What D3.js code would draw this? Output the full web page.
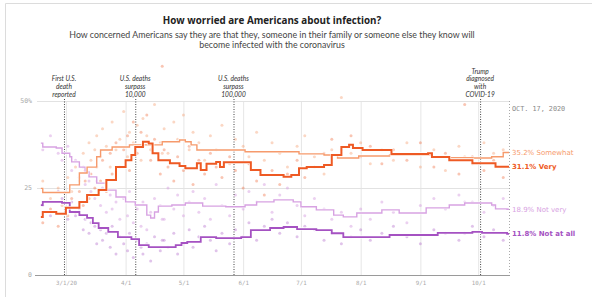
<!DOCTYPE html>
<html>
<head>
<meta charset="utf-8">
<script src="https://cdn.jsdelivr.net/npm/d3@7"></script>
<style>
  html, body { margin: 0; padding: 0; background: #fff; }
  svg { display: block; }
</style>
</head>
<body>
<svg id="chart" width="592" height="297"></svg>
<script>
// ---- data ----
const title = "How worried are Americans about infection?";
const subtitleLines = [
  "How concerned Americans say they are that they, someone in their family or someone else they know will",
  "become infected with the coronavirus",
];
const dateRange = ["2020-02-15", "2020-10-17"];
const monthTicks = ["2020-03-01", "2020-04-01", "2020-05-01", "2020-06-01", "2020-07-01", "2020-08-01", "2020-09-01", "2020-10-01"];
const monthTickLabels = ["3/1/20", "4/1", "5/1", "6/1", "7/1", "8/1", "9/1", "10/1"];
const yTicks = [0, 25, 50];
const yTickLabels = ["0", "25", "50%"];
const endLabel = "OCT. 17, 2020";

const events = [
  { date: "2020-02-29", lines: ["First U.S.", "death", "reported"] },
  { date: "2020-04-06", lines: ["U.S. deaths", "surpass", "10,000"] },
  { date: "2020-05-27", lines: ["U.S. deaths", "surpass", "100,000"] },
  { date: "2020-10-02", lines: ["Trump", "diagnosed", "with", "COVID-19"] },
];

const veryTrend = [
  ["2020-02-17", 16.7], ["2020-02-18", 18.1], ["2020-02-25", 17.6], ["2020-03-01", 19.3],
  ["2020-03-08", 21.0], ["2020-03-12", 23.0], ["2020-03-18", 24.4], ["2020-03-22", 27.3],
  ["2020-03-27", 31.0], ["2020-04-01", 33.0], ["2020-04-04", 34.5], ["2020-04-06", 36.8],
  ["2020-04-10", 38.3], ["2020-04-13", 37.8], ["2020-04-15", 35.0], ["2020-04-18", 33.0],
  ["2020-04-24", 32.1], ["2020-04-29", 31.3], ["2020-05-02", 30.7], ["2020-05-08", 32.1],
  ["2020-05-10", 30.2], ["2020-05-13", 32.0], ["2020-05-18", 32.5], ["2020-05-20", 31.0],
  ["2020-05-22", 32.4], ["2020-06-05", 30.2], ["2020-06-10", 28.7], ["2020-06-22", 28.2],
  ["2020-06-26", 28.7], ["2020-06-30", 30.7], ["2020-07-04", 31.0], ["2020-07-13", 31.6],
  ["2020-07-17", 34.5], ["2020-07-22", 36.8], ["2020-07-26", 37.4], ["2020-07-28", 36.5],
  ["2020-08-02", 35.9], ["2020-08-17", 34.8], ["2020-09-05", 35.0], ["2020-09-07", 33.9],
  ["2020-09-16", 33.0], ["2020-09-28", 32.1], ["2020-10-10", 31.1], ["2020-10-17", 31.1],
];
const somewhatTrend = [
  ["2020-02-17", 24.9], ["2020-02-18", 23.7], ["2020-03-03", 25.9], ["2020-03-08", 29.3],
  ["2020-03-12", 31.0], ["2020-03-17", 34.0], ["2020-03-19", 35.9], ["2020-03-25", 36.8],
  ["2020-04-03", 37.4], ["2020-04-20", 38.3], ["2020-04-29", 38.8], ["2020-05-02", 38.3],
  ["2020-05-05", 37.4], ["2020-05-08", 35.9], ["2020-06-02", 35.4], ["2020-06-30", 34.8],
  ["2020-07-13", 34.5], ["2020-07-20", 33.6], ["2020-07-31", 34.2], ["2020-08-16", 34.5],
  ["2020-09-07", 33.9], ["2020-09-16", 33.7], ["2020-09-28", 33.6], ["2020-10-08", 34.0],
  ["2020-10-14", 35.2], ["2020-10-17", 35.2],
];
const notVeryTrend = [
  ["2020-02-17", 37.9], ["2020-02-18", 36.8], ["2020-02-25", 36.5], ["2020-02-28", 35.0],
  ["2020-03-03", 34.0], ["2020-03-04", 32.5], ["2020-03-08", 31.0], ["2020-03-11", 29.6],
  ["2020-03-13", 28.2], ["2020-03-17", 26.4], ["2020-03-22", 24.4], ["2020-03-27", 22.4],
  ["2020-04-01", 21.0], ["2020-04-06", 20.1], ["2020-04-12", 17.2], ["2020-04-14", 16.4],
  ["2020-04-16", 18.1], ["2020-04-18", 19.8], ["2020-04-25", 20.1], ["2020-05-02", 20.7],
  ["2020-05-11", 19.8], ["2020-05-23", 19.6], ["2020-06-02", 20.1], ["2020-06-08", 21.0],
  ["2020-06-17", 21.6], ["2020-06-27", 21.0], ["2020-07-01", 19.6], ["2020-07-09", 18.7],
  ["2020-07-18", 17.2], ["2020-07-23", 16.7], ["2020-07-30", 17.8], ["2020-08-12", 18.7],
  ["2020-08-21", 17.8], ["2020-09-04", 19.3], ["2020-09-16", 20.1], ["2020-09-24", 20.7],
  ["2020-10-08", 20.1], ["2020-10-10", 19.0], ["2020-10-16", 18.9], ["2020-10-17", 18.9],
];
const notAtAllTrend = [
  ["2020-02-17", 20.1], ["2020-02-18", 21.0], ["2020-02-28", 20.7], ["2020-03-03", 18.1],
  ["2020-03-08", 17.2], ["2020-03-12", 16.4], ["2020-03-15", 14.9], ["2020-03-18", 13.5],
  ["2020-03-23", 12.4], ["2020-03-28", 10.9], ["2020-04-04", 10.3], ["2020-04-08", 8.6],
  ["2020-04-13", 8.0], ["2020-04-27", 8.6], ["2020-04-30", 9.2], ["2020-05-03", 9.5],
  ["2020-05-10", 10.9], ["2020-05-18", 10.6], ["2020-05-31", 10.9], ["2020-06-05", 12.9],
  ["2020-06-15", 13.5], ["2020-06-22", 13.8], ["2020-06-29", 13.2], ["2020-07-09", 12.9],
  ["2020-07-17", 12.0], ["2020-07-23", 10.9], ["2020-08-16", 11.5], ["2020-09-10", 12.1],
  ["2020-09-28", 12.4], ["2020-10-03", 12.1], ["2020-10-16", 11.8], ["2020-10-17", 11.8],
];

// individual polls: date, very, somewhat, not very, not at all
const polls = [
  ["2020-02-18", 15, 27, 36, 20], ["2020-02-22", 19, 22, 40, 17], ["2020-02-26", 14, 25, 35, 24],
  ["2020-02-28", 21, 20, 33, 22], ["2020-03-02", 17, 28, 37, 16], ["2020-03-04", 22, 24, 30, 21],
  ["2020-03-06", 18, 31, 33, 17], ["2020-03-08", 24, 27, 28, 19], ["2020-03-10", 20, 35, 31, 13],
  ["2020-03-11", 27, 30, 26, 16], ["2020-03-13", 22, 38, 27, 12], ["2020-03-14", 29, 33, 24, 15],
  ["2020-03-16", 25, 36, 22, 14], ["2020-03-17", 31, 40, 27, 9], ["2020-03-19", 27, 34, 20, 13],
  ["2020-03-20", 33, 42, 25, 10], ["2020-03-22", 24, 37, 18, 12], ["2020-03-24", 35, 31, 23, 8],
  ["2020-03-25", 29, 44, 19, 14], ["2020-03-27", 38, 36, 21, 6], ["2020-03-29", 31, 39, 16, 11],
  ["2020-03-31", 36, 47, 22, 9], ["2020-04-02", 40, 34, 17, 7], ["2020-04-03", 30, 41, 24, 12],
  ["2020-04-05", 44, 38, 15, 5], ["2020-04-07", 35, 43, 19, 10], ["2020-04-09", 41, 33, 14, 8],
  ["2020-04-10", 37, 45, 21, 6], ["2020-04-12", 46, 40, 13, 9], ["2020-04-14", 33, 36, 18, 4],
  ["2020-04-16", 39, 49, 22, 11], ["2020-04-19", 29, 38, 20, 7], ["2020-04-20", 60, 35, 16, 10],
  ["2020-04-21", 36, 42, 16, 10], ["2020-04-23", 31, 35, 25, 8], ["2020-04-26", 27, 44, 19, 12],
  ["2020-04-28", 34, 39, 23, 6], ["2020-05-01", 30, 46, 17, 9], ["2020-05-04", 37, 36, 21, 13],
  ["2020-05-06", 26, 41, 24, 8], ["2020-05-09", 33, 38, 18, 11], ["2020-05-12", 29, 33, 22, 14],
  ["2020-05-15", 35, 40, 16, 10], ["2020-05-18", 31, 36, 26, 7], ["2020-05-21", 28, 43, 20, 12],
  ["2020-05-25", 34, 32, 17, 9], ["2020-05-28", 30, 39, 23, 13], ["2020-06-01", 25, 37, 19, 11],
  ["2020-06-04", 32, 34, 24, 15], ["2020-06-08", 27, 41, 21, 10], ["2020-06-12", 23, 33, 26, 14],
  ["2020-06-16", 30, 38, 18, 16], ["2020-06-20", 26, 35, 23, 12], ["2020-06-24", 29, 31, 25, 15],
  ["2020-06-29", 33, 37, 20, 11], ["2020-07-03", 28, 40, 17, 14], ["2020-07-08", 31, 34, 22, 13],
  ["2020-07-13", 35, 29, 19, 10], ["2020-07-17", 39, 36, 16, 12], ["2020-07-22", 36, 51, 18, 9],
  ["2020-07-27", 40, 35, 14, 11], ["2020-08-01", 34, 38, 19, 13], ["2020-08-06", 37, 32, 16, 10],
  ["2020-08-12", 32, 36, 21, 12], ["2020-08-18", 36, 33, 18, 14], ["2020-08-25", 33, 38, 15, 11],
  ["2020-09-01", 38, 31, 20, 9], ["2020-09-08", 31, 36, 22, 13], ["2020-09-14", 35, 30, 19, 12],
  ["2020-09-21", 29, 37, 23, 10], ["2020-09-24", 49, 34, 21, 12], ["2020-09-28", 34, 32, 21, 14],
  ["2020-10-04", 30, 38, 18, 11], ["2020-10-09", 33, 35, 20, 13], ["2020-10-14", 28, 36, 22, 10],
];

const seriesNames = ["Somewhat", "Very", "Not very", "Not at all"];
const seriesColors = ["#f69a6c", "#ee5a24", "#d7a2e2", "#a552c2"];
// column of each series inside a poll row
const pollColumn = [2, 1, 3, 4];

// ---- drawing ----
const parse = d3.utcParse("%Y-%m-%d");
const svg = d3.select("#chart");

const margin = { top: 101, bottom: 275, left: 37, right: 509 };
const titleX = 272;
const x = d3.scaleUtc().domain(dateRange.map(parse)).range([margin.left, margin.right]);
const y = d3.scaleLinear().domain([0, 50]).range([margin.bottom, margin.top]);

// frame
svg.append("path")
  .attr("d", "M5.5,297 V3.5 H592")
  .attr("fill", "none")
  .attr("stroke", "#dcdcdc");

// titles
svg.append("text")
  .attr("x", titleX).attr("y", 24)
  .attr("text-anchor", "middle")
  .attr("font-family", "'Open Sans', sans-serif")
  .attr("font-weight", 700)
  .attr("font-size", 9.8)
  .attr("fill", "#222")
  .text(title);

svg.append("g")
  .selectAll("text")
  .data(subtitleLines)
  .join("text")
  .attr("x", titleX)
  .attr("y", (d, i) => 37.5 + i * 10.5)
  .attr("text-anchor", "middle")
  .attr("font-family", "Lato, sans-serif")
  .attr("font-size", 8.8)
  .attr("fill", "#444")
  .text((d) => d);

// grid
const grid = svg.append("g");
grid.selectAll("line.v")
  .data(monthTicks)
  .join("line")
  .attr("class", "v")
  .attr("x1", (d) => x(parse(d)) + 0.5)
  .attr("x2", (d) => x(parse(d)) + 0.5)
  .attr("y1", y(50))
  .attr("y2", y(0))
  .attr("stroke", "#e6e6e6");
grid.selectAll("line.h")
  .data(yTicks.filter((d) => d > 0))
  .join("line")
  .attr("class", "h")
  .attr("x1", margin.left)
  .attr("x2", margin.right)
  .attr("y1", (d) => y(d) + 0.5)
  .attr("y2", (d) => y(d) + 0.5)
  .attr("stroke", "#e2e2e2");

// end-of-data line
svg.append("line")
  .attr("x1", x(parse(dateRange[1])) + 0.5)
  .attr("x2", x(parse(dateRange[1])) + 0.5)
  .attr("y1", y(50))
  .attr("y2", y(0))
  .attr("stroke", "#aaa")
  .attr("stroke-dasharray", "1,2");

svg.append("text")
  .attr("x", x(parse(dateRange[1])) + 3)
  .attr("y", 111)
  .attr("font-family", "DejaVu Sans Mono, monospace")
  .attr("font-size", 6.8)
  .attr("fill", "#8a8a8a")
  .text(endLabel);

// y labels
svg.append("g")
  .selectAll("text")
  .data(yTicks)
  .join("text")
  .attr("x", 32)
  .attr("y", (d) => y(d))
  .attr("dy", "0.35em")
  .attr("text-anchor", "end")
  .attr("font-family", "DejaVu Sans Mono, monospace")
  .attr("font-size", 6.5)
  .attr("fill", "#aaa")
  .text((d, i) => yTickLabels[i]);

// x axis
const xAxis = svg.append("g")
  .attr("transform", `translate(0,${y(0)})`)
  .call(
    d3.axisBottom(x)
      .tickValues(monthTicks.map(parse))
      .tickSize(0)
      .tickPadding(6)
      .tickFormat((d, i) => monthTickLabels[i]),
  );
xAxis.select(".domain").remove();
xAxis.selectAll("text")
  .attr("font-family", "DejaVu Sans Mono, monospace")
  .attr("font-size", 5.8)
  .attr("fill", "#aaa");
svg.append("line")
  .attr("x1", margin.left - 2)
  .attr("x2", margin.right + 1)
  .attr("y1", y(0) + 0.5)
  .attr("y2", y(0) + 0.5)
  .attr("stroke", "#9a9a9a");

// poll dots
const dotLayer = svg.append("g");
const dotOpacity = [0.4, 0.35, 0.5, 0.35];
[2, 3, 0, 1].forEach((k) => {
  dotLayer.append("g")
    .selectAll("circle")
    .data(polls)
    .join("circle")
    .attr("cx", (d) => x(parse(d[0])))
    .attr("cy", (d) => y(d[pollColumn[k]]))
    .attr("r", 1.5)
    .attr("fill", seriesColors[k])
    .attr("fill-opacity", dotOpacity[k]);
});

// event markers
const ev = svg.append("g");
events.forEach((e) => {
  const ex = x(parse(e.date));
  ev.append("line")
    .attr("x1", ex + 0.5)
    .attr("x2", ex + 0.5)
    .attr("y1", 99)
    .attr("y2", y(0))
    .attr("stroke", "#444")
    .attr("stroke-dasharray", "1,1.5");
  ev.append("g")
    .selectAll("text")
    .data(e.lines)
    .join("text")
    .attr("x", ex)
    .attr("y", (d, i) => 97 - (e.lines.length - 1 - i) * 7.8)
    .attr("text-anchor", "middle")
    .attr("font-family", "Lato, sans-serif")
    .attr("font-style", "italic")
    .attr("font-size", 6.6)
    .attr("fill", "#333")
    .text((d) => d);
});

// trend lines
const trends = [somewhatTrend, veryTrend, notVeryTrend, notAtAllTrend];
const widths = [1.4, 2, 1.4, 1.8];
const line = d3.line()
  .curve(d3.curveStepAfter)
  .x((d) => x(parse(d[0])))
  .y((d) => y(d[1]));
const lineLayer = svg.append("g");
[3, 2, 0, 1].forEach((k) => {
  lineLayer.append("path")
    .attr("d", line(trends[k]))
    .attr("fill", "none")
    .attr("stroke", "#fff")
    .attr("stroke-opacity", 0.8)
    .attr("stroke-width", widths[k] + 1.6);
  lineLayer.append("path")
    .attr("d", line(trends[k]))
    .attr("fill", "none")
    .attr("stroke", seriesColors[k])
    .attr("stroke-width", widths[k]);
});

// end labels
svg.append("g")
  .selectAll("text")
  .data(trends)
  .join("text")
  .attr("x", margin.right + 3)
  .attr("y", (d) => y(d[d.length - 1][1]))
  .attr("dy", "0.35em")
  .attr("font-family", "DejaVu Sans, sans-serif")
  .attr("font-size", 7)
  .attr("font-weight", (d, i) => (i % 2 === 1 ? 700 : 400))
  .attr("fill", (d, i) => seriesColors[i])
  .text((d, i) => `${d[d.length - 1][1].toFixed(1)}% ${seriesNames[i]}`);
</script>
</body>
</html>
